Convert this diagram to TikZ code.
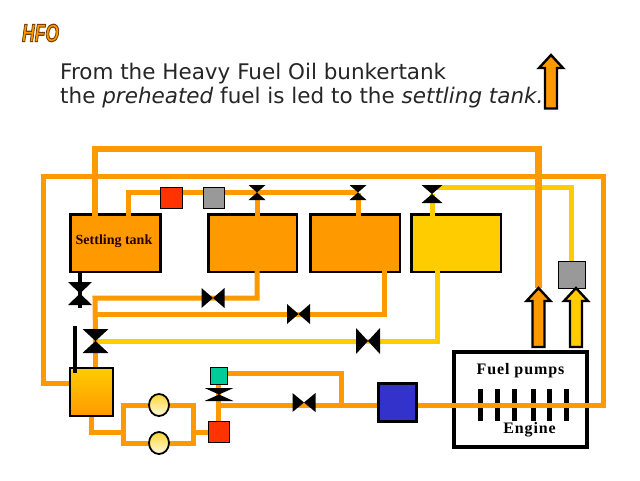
\documentclass[tikz,border=0pt]{standalone}
\usepackage{fontspec}
\setmainfont{Liberation Serif}
\newfontfamily\captionfont{DejaVu Sans}
\newfontfamily\badgefont{Liberation Sans}
\newfontfamily\spacedbold[LetterSpace=5.6,BoldFont={Liberation Serif Bold}]{Liberation Serif}
\usetikzlibrary{calc,shapes.geometric}
\definecolor{fuel}{HTML}{FF9900}
\definecolor{preheated}{HTML}{FFCC00}
\definecolor{heater}{HTML}{FF3300}
\definecolor{meter}{HTML}{999999}
\definecolor{sensor}{HTML}{00CC99}
\definecolor{filterblue}{HTML}{3333CC}
\pgfdeclarelayer{under}
\pgfdeclarelayer{over}
\pgfsetlayers{under,main,over}
\tikzset{
  x=1pt,y=-1pt,
  box/.style n args={4}{draw=black,line width=#4,inner sep=0pt,outer sep=0pt,anchor=north west,minimum width=#1,minimum height=#2,fill=#3},
  tank/.style 2 args={box={#1}{57.5pt}{#2}{2.6pt}},
  small/.style n args={3}{box={#1}{#2}{#3}{0.8pt}},
  pipe/.style={draw=fuel,line width=5pt,line join=miter},
  thickpipe/.style={draw=fuel,line width=6.5pt,line join=miter},
  yellowpipe/.style={draw=preheated,line width=5pt,line join=miter},
  pump/.style={draw=black,line width=1.8pt,ellipse,inner sep=0pt,outer sep=0pt,minimum width=20pt,minimum height=22pt,top color=preheated!80!white,bottom color=preheated!12!white},
  cyl/.style={draw=black,line width=2.6pt,inner sep=0pt,outer sep=0pt,anchor=north west,minimum width=43pt,minimum height=48pt,top color=preheated,bottom color=fuel},
  plunger/.style={fill=black,inner sep=0pt,outer sep=0pt,minimum width=5pt,minimum height=32pt},
  label/.style={text=black,inner sep=0pt},
  caption/.style={font=\captionfont\fontsize{21.5}{24}\selectfont,text=black!85,inner sep=0pt,anchor=base west},
}
% bow-tie valve: name, centre x, centre y, half width, half height; horizontal flow
\newcommand{\hvalve}[5]{%
  \coordinate (#1) at (#2,#3);
  \fill[black] ($(#1)+(-#4,-#5)$) -- ($(#1)+(#4,#5)$) -- ($(#1)+(#4,-#5)$) -- ($(#1)+(-#4,#5)$) -- cycle;}
% bow-tie valve with vertical flow
\newcommand{\vvalve}[5]{%
  \coordinate (#1) at (#2,#3);
  \fill[black] ($(#1)+(-#4,-#5)$) -- ($(#1)+(#4,-#5)$) -- ($(#1)+(-#4,#5)$) -- ($(#1)+(#4,#5)$) -- cycle;}
% outlined up arrow: name, centre x, tip y, bottom y, fill
\newcommand{\uparrowshape}[5]{%
  \coordinate (#1) at (#2,#3);
  \filldraw[draw=black,line width=2.4pt,fill=#5,line join=miter]
    ($(#1)+(0,0)$) -- ($(#1)+(12,13)$) -- ($(#1)+(6,13)$) -- (#2+6,#4) -- (#2-6,#4)
    -- ($(#1)+(-6,13)$) -- ($(#1)+(-12,13)$) -- cycle;}
\begin{document}
\begin{tikzpicture}
\useasboundingbox (0,0) rectangle (640,480);

\begin{pgfonlayer}{under}
  \fill[white] (0,0) rectangle (640,480);
  \node[tank={90pt}{fuel}] (settling) at (70.3,214.3) {};
  \node[tank={88.5pt}{fuel}] (tankb) at (208.3,214.3) {};
  \node[tank={89.5pt}{fuel}] (tankc) at (310.3,214.3) {};
  \node[tank={89.5pt}{preheated}] (tankd) at (411.3,214.3) {};
  \node[box={133pt}{95pt}{white}{4pt}] (engine) at (454,352) {};
  \foreach \n/\px in {a/480,b/497,c/514,d/533,e/549,f/566}
    \node[plunger] (plunger\n) at (\px,405) {};
\end{pgfonlayer}

\begin{pgfonlayer}{over}
  \node[small={22pt}{21pt}{heater}] (heatertop) at (160,187) {};
  \node[small={21pt}{21pt}{meter}] (metertop) at (203,187) {};
  \node[small={27pt}{27pt}{meter}] (meterright) at (558,261) {};
  \node[small={17pt}{17pt}{sensor}] (sensorbox) at (210.5,367) {};
  \node[small={21pt}{21pt}{heater}] (heaterlow) at (208,421.5) {};
  \node[box={38pt}{38pt}{filterblue}{3pt}] (filterbox) at (378.5,383.5) {};
  \node[cyl] (daytank) at (70,368) {};
  \node[pump] (pumpa) at (159,405) {};
  \node[pump] (pumpb) at (159,443) {};

  \vvalve{vb}{257}{192.5}{8.5}{7.5}
  \vvalve{vc}{358}{192.5}{8.5}{7.5}
  \vvalve{vd}{432}{194}{10.5}{9}
  \vvalve{vs}{80}{293.5}{12}{11.5}
  \hvalve{vreturnb}{213}{298}{11.5}{10}
  \hvalve{vreturnc}{298.5}{314}{11.5}{10}
  \vvalve{vmix}{95.5}{341}{13}{12}
  \hvalve{vreturnd}{368}{341}{12}{13}
  \vvalve{vsensor}{219}{394.5}{14.5}{6.5}
  \hvalve{vfeed}{304}{402.5}{11.5}{9.5}

  % drain and vent bars at the settling and day tanks
  \draw[black,line width=4pt] (settling.south -| vs) -- ++(0,36);
  \draw[black,line width=4pt] (75,326) -- (75,373);

  \uparrowshape{tipfuel}{538.5}{288}{347}{fuel}
  \uparrowshape{tipyellow}{576}{288}{347}{preheated}
\end{pgfonlayer}

% yellow feed from the fourth tank
\coordinate (ytop) at (432,187);
\draw[yellowpipe] (vd) -- (432,216);
\draw[yellowpipe] (ytop) -| (meterright.north);
\draw[yellowpipe] (437,271) -- (437,341) -- (vmix);

% transfer lines from the settling tank
\coordinate (overflow) at (95,216);
\coordinate (fillpoint) at (128,216);
\draw[thickpipe] (overflow) -- (95,149) -| (tipfuel);
\draw[pipe] (fillpoint) |- (vc);
\draw[pipe] (vb) -- (257,216);
\draw[pipe] (vc) -- (358,216);

% returns to the mixing column
\coordinate (joinb) at (95,298);
\coordinate (joinc) at (95,314);
\draw[pipe] (257,271) -- (257,298) -- (joinb) -- (vmix);
\draw[pipe] (vmix) -- (daytank.north -| vmix);
\draw[pipe] (384,271) -- (384,314) -- (joinc);

% pump loop
\coordinate (loopin) at (123,432);
\draw[pipe] (91,417) |- (loopin);
\draw[pipe] (pumpa) -- (123,405) -- (123,443) -- (pumpb);
\draw[pipe] (pumpa) -- (193,405) -- (193,443) -- (pumpb);
\draw[pipe] (193,432) -- (heaterlow.west);

% from the heater to the filter and through the engine
\coordinate (branch) at (219,405);
\draw[pipe] (heaterlow.north) -- (sensorbox.south -| heaterlow.north);
\draw[pipe] (branch) -- (filterbox.west |- branch);
\draw[pipe] (sensorbox.east |- 0,373) -- (341.5,373) -- (341.5,405);
\coordinate (leak) at (72,383);
\draw[pipe] (filterbox.east |- branch) -- (603,405) -- (603,176) -- (43,176) -- (43,383) -- (leak);

% texts
\node[caption] (captiona) at (60,79) {From the Heavy Fuel Oil bunkertank};
\node[caption] (captionb) at (60,103) {the {\itshape preheated} fuel is led to the {\itshape settling tank.}};
\uparrowshape{tipcaption}{551}{55}{108.5}{fuel}
\node[inner sep=0pt,xscale=0.7] (badge) at (40.5,33) {\badgefont\bfseries\itshape\fontsize{25}{25}\selectfont
  \color{fuel}\special{pdf:code 2 Tr 1.1 w 0.45 0.25 0 RG}HFO\special{pdf:code 0 Tr}};
\node[label,font=\bfseries\fontsize{14}{16}\selectfont,text=black!85!red] (settlinglabel) at (114,241) {Settling tank};
\node[label,font=\spacedbold\bfseries\fontsize{16}{18}\selectfont] (pumpslabel) at (520.5,371) {Fuel pumps};
\node[label,font=\spacedbold\bfseries\fontsize{16}{18}\selectfont] (enginelabel) at (529.5,430) {Engine};
\end{tikzpicture}
\end{document}
